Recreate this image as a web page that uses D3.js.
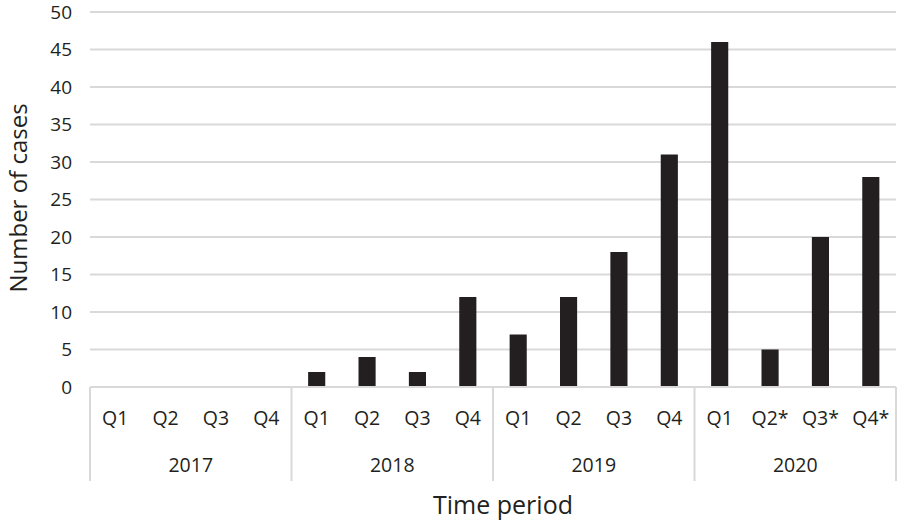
<!DOCTYPE html>
<html><head><meta charset="utf-8">
<script src="https://cdn.jsdelivr.net/npm/d3@7"></script>
<style>body{margin:0;background:#fff}svg{display:block}text{font-family:"Open Sans","Noto Sans",sans-serif;fill:#231f20}</style>
</head><body><svg id="c" width="904" height="524"></svg>
<script>
const years = ["2017","2018","2019","2020"];
const quarters = [["Q1","Q2","Q3","Q4"],["Q1","Q2","Q3","Q4"],["Q1","Q2","Q3","Q4"],["Q1","Q2*","Q3*","Q4*"]];
const cases = [[0,0,0,0],[2,4,2,12],[7,12,18,31],[46,5,20,28]];
const yTicks = [0,5,10,15,20,25,30,35,40,45,50];

const data = [];
years.forEach((y,i)=>quarters[i].forEach((q,j)=>data.push({key:y+"-"+j,year:y,q:q,v:cases[i][j]})));

const svg = d3.select("#c");
const L=90,R=896,T=12,B=387;
const x = d3.scaleBand().domain(data.map(d=>d.key)).range([L,R]).paddingInner(0.66).paddingOuter(0.33);
const y = d3.scaleLinear().domain([0,50]).range([B,T]);

// gridlines
svg.append("g").selectAll("line").data(yTicks).join("line")
  .attr("x1",L).attr("x2",R).attr("y1",d=>y(d)).attr("y2",d=>y(d))
  .attr("stroke","#d9d9d9").attr("stroke-width",2);
// y labels
svg.append("g").selectAll("text").data(yTicks).join("text")
  .attr("x",72).attr("y",d=>y(d)).attr("dy","0.35em").attr("text-anchor","end")
  .style("font-size","19px").text(d=>d);

// bars
svg.append("g").selectAll("rect").data(data).join("rect")
  .attr("x",d=>x(d.key)).attr("width",x.bandwidth())
  .attr("y",d=>y(d.v)).attr("height",d=>B-y(d.v)).attr("fill","#231f20");

// category axis
const step = (R-L)/data.length;
svg.append("line").attr("x1",L).attr("x2",R).attr("y1",B).attr("y2",B).attr("stroke","#d9d9d9").attr("stroke-width",2);
const divs = d3.range(years.length+1).map(i=>L+i*4*step);
svg.append("g").selectAll("line").data(divs).join("line")
  .attr("x1",d=>d).attr("x2",d=>d).attr("y1",B).attr("y2",481)
  .attr("stroke","#d9d9d9").attr("stroke-width",2);
svg.append("g").selectAll("text").data(data).join("text")
  .attr("x",d=>x(d.key)+x.bandwidth()/2).attr("y",418).attr("dy","0.35em").attr("text-anchor","middle")
  .style("font-size","19.5px").text(d=>d.q);
svg.append("g").selectAll("text").data(years).join("text")
  .attr("x",(d,i)=>L+(i*4+2)*step).attr("y",465).attr("dy","0.35em").attr("text-anchor","middle")
  .style("font-size","19.5px").text(d=>d);

// titles
svg.append("text").attr("x",(L+R)/2+10).attr("y",505).attr("dy","0.35em").attr("text-anchor","middle")
  .style("font-size","25px").text("Time period");
svg.append("text").attr("transform","translate(19,198) rotate(-90)").attr("dy","0.35em").attr("text-anchor","middle")
  .style("font-size","24px").text("Number of cases");
</script></body></html>
